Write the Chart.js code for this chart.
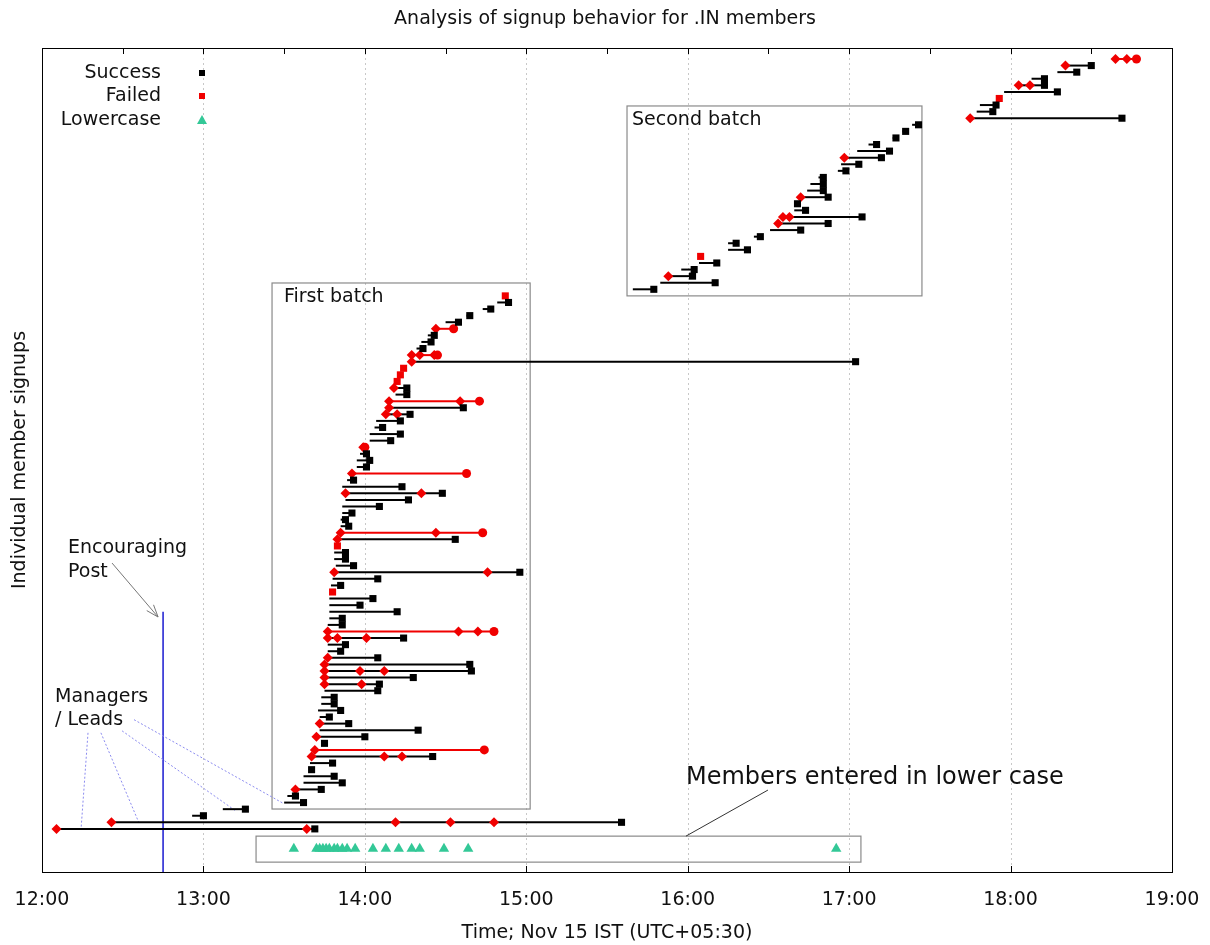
<!DOCTYPE html>
<html>
<head>
<meta charset="utf-8">
<title>Analysis of signup behavior for .IN members</title>
<script src="https://cdn.jsdelivr.net/npm/chart.js"></script>
<style>
  html, body { margin: 0; padding: 0; background: #fff; }
  #wrap { width: 1210px; height: 945px; }
</style>
</head>
<body>
<div id="wrap"><canvas id="signups" width="1210" height="945"></canvas></div>
<script>
/**
 * Signup timeline for .IN members, one row per member (top to bottom).
 * Times are decimal hours on Nov 15 IST.
 */

// X axis
var xTickValues = [12, 13, 14, 15, 16, 17, 18, 19];
var xTickLabels = ['12:00', '13:00', '14:00', '15:00', '16:00', '17:00', '18:00', '19:00'];

// Per member: start of bar, end of bar, outcome
// S = success (black square), F = never got in (red dot), X = single failed attempt
var rowStart = [
  18.65, 18.34, 18.29, 18.13, 18.05, 17.96, 17.93, 17.81, 17.79, 17.75,
  17.39, 17.33, 17.27, 17.12, 17.05, 16.97, 16.95, 16.93, 16.81, 16.76,
  16.74, 16.70, 16.68, 16.66, 16.59, 16.56, 16.51, 16.41, 16.25, 16.25,
  16.08, 16.07, 15.96, 15.88, 15.83, 15.66, 14.87, 14.82, 14.73, 14.63,
  14.50, 14.44, 14.39, 14.35, 14.32, 14.29, 14.29, 14.24, 14.22, 14.20,
  14.18, 14.19, 14.15, 14.15, 14.13, 14.07, 14.06, 14.03, 14.03, 13.99,
  13.97, 13.95, 13.95, 13.92, 13.89, 13.86, 13.88, 13.88, 13.86, 13.86,
  13.85, 13.85, 13.85, 13.83, 13.83, 13.81, 13.81, 13.82, 13.81, 13.80,
  13.79, 13.80, 13.78, 13.78, 13.78, 13.78, 13.77, 13.77, 13.77, 13.77,
  13.77, 13.77, 13.75, 13.75, 13.75, 13.75, 13.75, 13.73, 13.73, 13.71,
  13.72, 13.72, 13.72, 13.70, 13.73, 13.69, 13.67, 13.66, 13.67, 13.62,
  13.62, 13.57, 13.52, 13.50, 13.12, 12.93, 12.43, 12.09
];
var rowEnd = [
  18.78, 18.50, 18.41, 18.21, 18.21, 18.29, 17.93, 17.91, 17.89, 18.69,
  17.43, 17.35, 17.29, 17.17, 17.25, 17.20, 17.06, 16.98, 16.84, 16.84,
  16.84, 16.87, 16.68, 16.73, 17.08, 16.87, 16.70, 16.45, 16.30, 16.37,
  16.08, 16.18, 16.04, 16.03, 16.17, 15.79, 14.87, 14.89, 14.78, 14.65,
  14.58, 14.55, 14.43, 14.41, 14.36, 14.45, 17.04, 14.24, 14.22, 14.20,
  14.26, 14.26, 14.71, 14.61, 14.28, 14.22, 14.11, 14.22, 14.16, 14.00,
  14.01, 14.03, 14.01, 14.63, 13.93, 14.23, 14.48, 14.27, 14.09, 13.92,
  13.88, 13.90, 14.73, 14.56, 13.83, 13.88, 13.88, 13.93, 14.96, 14.08,
  13.85, 13.80, 14.05, 13.97, 14.20, 13.86, 13.86, 14.80, 14.24, 13.88,
  13.85, 14.08, 14.65, 14.66, 14.30, 14.09, 14.08, 13.81, 13.81, 13.85,
  13.78, 13.90, 14.33, 14.00, 13.75, 14.74, 14.42, 13.80, 13.67, 13.81,
  13.86, 13.73, 13.57, 13.62, 13.26, 13.00, 15.59, 13.69
];
var rowOutcome = [
  'F', 'S', 'S', 'S', 'S', 'S', 'X', 'S', 'S', 'S',
  'S', 'S', 'S', 'S', 'S', 'S', 'S', 'S', 'S', 'S',
  'S', 'S', 'S', 'S', 'S', 'S', 'S', 'S', 'S', 'S',
  'X', 'S', 'S', 'S', 'S', 'S', 'X', 'S', 'S', 'S',
  'S', 'F', 'S', 'S', 'S', 'F', 'S', 'X', 'X', 'X',
  'S', 'S', 'F', 'S', 'S', 'S', 'S', 'S', 'S', 'F',
  'S', 'S', 'S', 'F', 'S', 'S', 'S', 'S', 'S', 'S',
  'S', 'S', 'F', 'S', 'X', 'S', 'S', 'S', 'S', 'S',
  'S', 'X', 'S', 'S', 'S', 'S', 'S', 'F', 'S', 'S',
  'S', 'S', 'S', 'S', 'S', 'S', 'S', 'S', 'S', 'S',
  'S', 'S', 'S', 'S', 'S', 'F', 'S', 'S', 'S', 'S',
  'S', 'S', 'S', 'S', 'S', 'S', 'S', 'S'
];
// failed attempts along the bar (red diamonds), by row
var rowRetries = {
  0: [18.65, 18.72], 1: [18.34], 4: [18.05, 18.12], 9: [17.75],
  15: [16.97], 21: [16.70], 24: [16.59, 16.63], 25: [16.56], 33: [15.88],
  41: [14.44], 45: [14.29, 14.34, 14.43], 46: [14.29], 50: [14.18],
  52: [14.15, 14.59], 53: [14.15], 54: [14.13, 14.20], 59: [13.99],
  63: [13.92], 66: [13.88, 14.35], 72: [13.85, 14.44], 73: [13.83],
  78: [13.81, 14.76], 87: [13.77, 14.58, 14.70], 88: [13.77, 13.83, 14.01],
  91: [13.77], 92: [13.75], 93: [13.75, 13.97, 14.12], 94: [13.75],
  95: [13.75, 13.98], 101: [13.72], 103: [13.70], 105: [13.69],
  106: [13.67, 14.12, 14.23], 111: [13.57],
  116: [12.43, 14.19, 14.53, 14.80], 117: [12.09, 13.64]
};
// members who typed their name in lower case
var lowercaseTimes = [
  13.56, 13.70, 13.72, 13.74, 13.76, 13.78, 13.81, 13.83, 13.86, 13.89,
  13.94, 14.05, 14.13, 14.21, 14.29, 14.34, 14.49, 14.64, 16.92
];
var lowercaseRow = 120;

var encouragingPostAt = 12.75;

// Build one small dataset per bar so no gap handling is needed
var spanSets = [], retryPts = [], successPts = [], lastFailPts = [], failedPts = [];
var RED = '#f00000';
var GREEN = '#33c897';
var FONT = '"DejaVu Sans", Verdana, sans-serif';

for (var row = 0; row < rowStart.length; row++) {
  var start = rowStart[row];
  var end = rowEnd[row];
  var kind = rowOutcome[row];
  if (kind === 'X') {
    failedPts.push({x: start, y: row});
    continue;
  }
  if (end > start) {
    spanSets.push({
      data: [{x: start, y: row}, {x: end, y: row}],
      showLine: true, pointRadius: 0, borderWidth: 2,
      borderColor: kind === 'S' ? '#000' : RED, order: 3
    });
  }
  (rowRetries[row] || []).forEach(function (t) {
    retryPts.push({x: t, y: row});
  });
  if (kind === 'S') successPts.push({x: end, y: row});
  else lastFailPts.push({x: end, y: row});
}
var lowercasePts = lowercaseTimes.map(function (t) { return {x: t, y: lowercaseRow}; });

// Annotations, legend, frame and ticks (gnuplot style)
var decorations = {
  id: 'decorations',
  beforeDraw: function (chart) {
    var ctx = chart.ctx;
    ctx.save();
    ctx.fillStyle = '#fff';
    ctx.fillRect(0, 0, chart.width, chart.height);
    ctx.restore();
  },
  beforeDatasetsDraw: function (chart) {
    var ctx = chart.ctx, a = chart.chartArea;
    var xs = chart.scales.x, ys = chart.scales.y;
    var px = function (h) { return xs.getPixelForValue(h); };
    var py = function (r) { return ys.getPixelForValue(r); };

    ctx.save();
    // hour grid
    ctx.strokeStyle = '#c8c8c8';
    ctx.lineWidth = 1;
    ctx.setLineDash([2, 3]);
    for (var i = 1; i < xTickValues.length - 1; i++) {
      var gx = Math.round(px(xTickValues[i])) + 0.5;
      ctx.beginPath();
      ctx.moveTo(gx, a.top);
      ctx.lineTo(gx, a.bottom);
      ctx.stroke();
    }
    ctx.setLineDash([]);

    // batch boxes
    ctx.strokeStyle = '#8a8a8a';
    ctx.lineWidth = 1.2;
    ctx.strokeRect(px(13.425), py(34.04), px(15.024) - px(13.425), py(113.98) - py(34.04));
    ctx.strokeRect(px(15.624), py(7.14), px(17.451) - px(15.624), py(36.0) - py(7.14));
    ctx.strokeRect(px(13.326), py(118.1), px(17.073) - px(13.326), py(122.05) - py(118.1));

    // encouraging post marker
    ctx.strokeStyle = '#1a1ad0';
    ctx.lineWidth = 1.5;
    ctx.beginPath();
    ctx.moveTo(px(encouragingPostAt), py(84));
    ctx.lineTo(px(encouragingPostAt), a.bottom);
    ctx.stroke();

    // managers / leads pointers
    ctx.strokeStyle = '#8c8cf0';
    ctx.lineWidth = 1;
    ctx.setLineDash([2, 2]);
    var pointers = [
      [12.285, 102.4, 12.242, 117],
      [12.365, 102.4, 12.601, 116.1],
      [12.496, 102.1, 13.202, 114.3],
      [12.570, 100.4, 13.493, 113.1]
    ];
    pointers.forEach(function (s) {
      ctx.beginPath();
      ctx.moveTo(px(s[0]), py(s[1]));
      ctx.lineTo(px(s[2]), py(s[3]));
      ctx.stroke();
    });
    ctx.setLineDash([]);
    ctx.restore();
  },
  afterDatasetsDraw: function (chart) {
    var ctx = chart.ctx, a = chart.chartArea;
    var xs = chart.scales.x, ys = chart.scales.y;
    var px = function (h) { return xs.getPixelForValue(h); };
    var py = function (r) { return ys.getPixelForValue(r); };

    ctx.save();
    // frame
    ctx.strokeStyle = '#000';
    ctx.lineWidth = 1;
    ctx.strokeRect(Math.round(a.left) + 0.5, Math.round(a.top) + 0.5,
      Math.round(a.right - a.left), Math.round(a.bottom - a.top));

    // inward ticks: half hours on top, hours on bottom
    for (var k = 1; k < 14; k++) {
      var tx = Math.round(px(12 + k / 2)) + 0.5;
      ctx.beginPath();
      ctx.moveTo(tx, a.top);
      ctx.lineTo(tx, a.top + 6);
      ctx.stroke();
      if (k % 2 === 0) {
        ctx.beginPath();
        ctx.moveTo(tx, a.bottom);
        ctx.lineTo(tx, a.bottom - 6);
        ctx.stroke();
      }
    }

    ctx.fillStyle = '#111';
    ctx.textBaseline = 'middle';

    // title
    ctx.font = '19px ' + FONT;
    ctx.textAlign = 'center';
    ctx.fillText('Analysis of signup behavior for .IN members', 605, 19);

    // annotation texts
    ctx.font = '19px ' + FONT;
    ctx.textAlign = 'left';
    ctx.fillText('First batch', px(13.499), py(36.2));
    ctx.fillText('Second batch', px(15.655), py(9.27));
    ctx.fillText('Encouraging', px(12.161), py(74.3));
    ctx.fillText('Post', px(12.161), py(78.0));
    ctx.fillText('Managers', px(12.081), py(97.0));
    ctx.fillText('/ Leads', px(12.081), py(100.5));
    ctx.font = '24px ' + FONT;
    ctx.fillText('Members entered in lower case', px(15.989), py(109.3));

    // pointer to lowercase box
    ctx.strokeStyle = '#333';
    ctx.lineWidth = 1;
    ctx.beginPath();
    ctx.moveTo(px(16.497), py(111.1));
    ctx.lineTo(px(15.989), py(118.1));
    ctx.stroke();

    // arrow from "Post" to the blue line
    var x0 = px(12.434), y0 = py(76.6), x1 = px(12.719), y1 = py(84.8);
    var ang = Math.atan2(y1 - y0, x1 - x0);
    ctx.strokeStyle = '#777';
    ctx.beginPath();
    ctx.moveTo(x0, y0);
    ctx.lineTo(x1, y1);
    ctx.moveTo(x1 - 13 * Math.cos(ang - 0.35), y1 - 13 * Math.sin(ang - 0.35));
    ctx.lineTo(x1, y1);
    ctx.lineTo(x1 - 13 * Math.cos(ang + 0.35), y1 - 13 * Math.sin(ang + 0.35));
    ctx.stroke();

    // legend
    ctx.font = '19px ' + FONT;
    ctx.textAlign = 'right';
    var legend = [
      ['Success', '#000', 'rect', 73],
      ['Failed', RED, 'rect', 96],
      ['Lowercase', GREEN, 'triangle', 120]
    ];
    legend.forEach(function (item) {
      ctx.fillStyle = '#111';
      ctx.fillText(item[0], 161, item[3]);
      ctx.fillStyle = item[1];
      if (item[2] === 'rect') {
        ctx.fillRect(199, item[3] - 3, 6, 6);
      } else {
        ctx.beginPath();
        ctx.moveTo(202, item[3] - 5);
        ctx.lineTo(207, item[3] + 4);
        ctx.lineTo(197, item[3] + 4);
        ctx.closePath();
        ctx.fill();
      }
    });
    ctx.restore();
  }
};

var markerSets = [
  {label: 'Success', data: successPts, pointStyle: 'rect', pointRadius: 5,
    backgroundColor: '#000', borderWidth: 0, order: 1},
  {label: 'Failed', data: failedPts, pointStyle: 'rect', pointRadius: 5,
    backgroundColor: RED, borderWidth: 0, order: 1},
  {label: 'Lowercase', data: lowercasePts, pointStyle: 'triangle', pointRadius: 6,
    backgroundColor: GREEN, borderWidth: 0, order: 1},
  {label: 'last fail', data: lastFailPts, pointStyle: 'circle', pointRadius: 4.5,
    backgroundColor: RED, borderWidth: 0, order: 2},
  {label: 'retry', data: retryPts, pointStyle: 'rectRot', pointRadius: 5,
    backgroundColor: RED, borderWidth: 0, order: 2}
];

var chart = new Chart(document.getElementById('signups').getContext('2d'), {
  type: 'scatter',
  data: {
    datasets: markerSets.concat(spanSets)
  },
  options: {
    responsive: false,
    animation: false,
    events: [],
    layout: {
      padding: {top: 48, right: 38, left: 0, bottom: 0}
    },
    plugins: {
      legend: {display: false},
      tooltip: {enabled: false},
      title: {display: false}
    },
    scales: {
      x: {
        type: 'linear',
        min: 12,
        max: 19,
        grid: {display: false},
        border: {display: false},
        afterFit: function (scale) {
          scale.height = 73;
          // the layout padding already leaves room for the end labels
          scale.paddingLeft = 0;
          scale.paddingRight = 0;
        },
        ticks: {
          stepSize: 1,
          autoSkip: false,
          maxRotation: 0,
          padding: 9,
          color: '#111',
          font: {family: FONT, size: 19},
          callback: function (value) {
            var i = xTickValues.indexOf(value);
            return i < 0 ? '' : xTickLabels[i];
          }
        },
        title: {
          display: true,
          text: 'Time; Nov 15 IST (UTC+05:30)',
          color: '#111',
          font: {family: FONT, size: 19},
          padding: {top: 0, bottom: 1}
        }
      },
      y: {
        type: 'linear',
        reverse: true,
        min: -1.67,
        max: 123.55,
        grid: {display: false},
        border: {display: false},
        ticks: {display: false},
        afterFit: function (scale) { scale.width = 42; },
        title: {
          display: true,
          text: 'Individual member signups',
          color: '#111',
          font: {family: FONT, size: 19},
          padding: {top: 9, bottom: 0}
        }
      }
    }
  },
  plugins: [decorations]
});
</script>
</body>
</html>
